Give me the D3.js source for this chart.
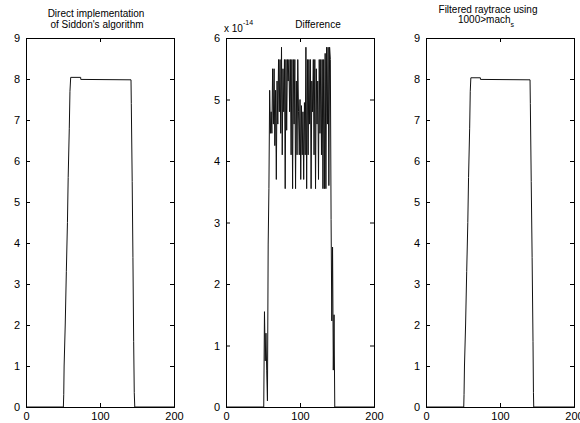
<!DOCTYPE html>
<html>
<head>
<meta charset="utf-8">
<script src="https://d3js.org/d3.v7.min.js"></script>
<style>
  body { margin: 0; background: #fff; }
  svg { display: block; }
  text { font-family: "Liberation Sans", Arial, sans-serif; fill: #000; }
</style>
</head>
<body>
<svg></svg>
<script>

// left panel: direct implementation
var leftX = [0, 50.5, 51, 51.5, 53, 54.5, 56, 57, 58.5, 59.4, 60.4, 73.9, 74, 141.9, 142.3, 143.5, 144.5, 145.5, 146.3, 147, 200]
var leftY = [0, 0, 0.3, 1.0, 2.0, 3.3, 4.5, 5.6, 6.8, 7.7, 8.04, 8.04, 7.99, 7.98, 7.4, 5.5, 3.65, 1.6, 0.35, 0, 0]

// right panel: filtered raytrace
var rightX = [0, 51, 51.4, 52, 53.5, 55, 56.5, 57.5, 59, 59.8, 60.6, 73.5, 73.6, 140.6, 141, 142.2, 143.4, 144.6, 145.2, 145.6, 200]
var rightY = [0, 0, 0.3, 1.0, 2.0, 3.3, 4.5, 5.6, 6.8, 7.7, 8.03, 8.03, 7.99, 7.98, 7.4, 5.5, 3.65, 1.6, 0.35, 0, 0]

// middle panel: difference (x 1e-14), samples 51..147, zero elsewhere
var diffStart = 51
var diffY = [
  0, 1.55, 0.75, 1.2, 0.6, 0.1, 2.65, 3.55, 5.15, 4.45,
  4.8, 4.45, 5.5, 4.6, 5.5, 4.25, 5.15, 3.7, 5.3, 4.6,
  5.65, 4.8, 5.65, 4.45, 5.85, 4.1, 5.5, 4.8, 5.65, 3.55,
  5.65, 4.5, 5.65, 5.3, 5.65, 4.8, 5.65, 4.1, 5.65, 3.55,
  5.65, 4.6, 5.65, 3.55, 5.3, 4.1, 5.65, 4.8, 4.1, 5.0,
  3.7, 4.9, 4.1, 4.8, 3.7, 4.95, 4.1, 5.85, 3.55, 5.65,
  4.1, 5.65, 4.6, 5.65, 3.55, 5.3, 4.8, 5.65, 4.1, 5.65,
  3.55, 5.5, 4.6, 5.3, 3.7, 5.65, 4.45, 5.65, 4.1, 5.65,
  3.55, 5.65, 3.55, 5.75, 3.55, 5.85, 4.6, 5.85, 3.6, 5.85,
  5.65, 3.05, 1.4, 2.6, 0.6, 1.5, 0
]

var xTicks = [0, 100, 200]
var yTicksProfile = [0, 1, 2, 3, 4, 5, 6, 7, 8, 9]
var yTicksDiff = [0, 1, 2, 3, 4, 5, 6]

var svg = d3.select('svg').attr('width', 580).attr('height', 423)

var plotTop = 38, plotBottom = 407, w = 148

function toPairs(xs, ys) {
  return xs.map((x, i) => [x, ys[i]])
}

var diffPairs = [[0, 0]].concat(diffY.map((v, i) => [diffStart + i, v]), [[200, 0]])

var panels = [
  {left: 26, ymax: 9, yticks: yTicksProfile, data: toPairs(leftX, leftY)},
  {left: 226, ymax: 6, yticks: yTicksDiff, data: diffPairs},
  {left: 426, ymax: 9, yticks: yTicksProfile, data: toPairs(rightX, rightY)}
]

panels.forEach((p) => {
  var x = d3.scaleLinear().domain([0, 200]).range([p.left, p.left + w])
  var y = d3.scaleLinear().domain([0, p.ymax]).range([plotBottom, plotTop])
  var g = svg.append('g')

  // data line
  g.append('path')
    .datum(p.data)
    .attr('fill', 'none')
    .attr('stroke', '#111')
    .attr('stroke-width', 1)
    .attr('d', d3.line().x((d) => x(d[0])).y((d) => y(d[1])))

  // axes, matlab style: ticks inward on all sides
  g.append('g').attr('transform', 'translate(0,' + plotBottom + ')')
    .call(d3.axisBottom(x).tickValues(xTicks).tickSize(-4).tickPadding(5))
  g.append('g').attr('transform', 'translate(0,' + plotTop + ')')
    .call(d3.axisTop(x).tickValues(xTicks).tickSize(-4).tickFormat(''))
  g.append('g').attr('transform', 'translate(' + p.left + ',0)')
    .call(d3.axisLeft(y).tickValues(p.yticks).tickSize(-4).tickPadding(6).tickFormat(d3.format('d')))
  g.append('g').attr('transform', 'translate(' + (p.left + w) + ',0)')
    .call(d3.axisRight(y).tickValues(p.yticks).tickSize(-4).tickFormat(''))

  g.selectAll('.domain').attr('stroke', '#000')
  g.selectAll('.tick line').attr('stroke', '#000')
  g.selectAll('.tick text')
    .style('font-family', '"Liberation Sans", Arial, sans-serif')
    .style('font-size', '11px')
})

// titles
function title(txt, cx, by) {
  svg.append('text').attr('x', cx).attr('y', by)
    .attr('text-anchor', 'middle').style('font-size', '10px').text(txt)
}
title('Direct implementation', 96, 17)
title("of Siddon's algorithm", 97, 28)
title('Difference', 318, 28)
title('Filtered raytrace using', 488, 13)

var t2 = svg.append('text').attr('x', 486).attr('y', 23)
  .attr('text-anchor', 'middle').style('font-size', '10px')
t2.append('tspan').text('1000>mach')
t2.append('tspan').attr('dy', 4).style('font-size', '7px').text('s')

var ex = svg.append('text').attr('x', 224).attr('y', 32).style('font-size', '10px')
ex.append('tspan').text('x 10')
ex.append('tspan').attr('dy', -7).style('font-size', '7px').text('-14')

</script>
</body>
</html>
